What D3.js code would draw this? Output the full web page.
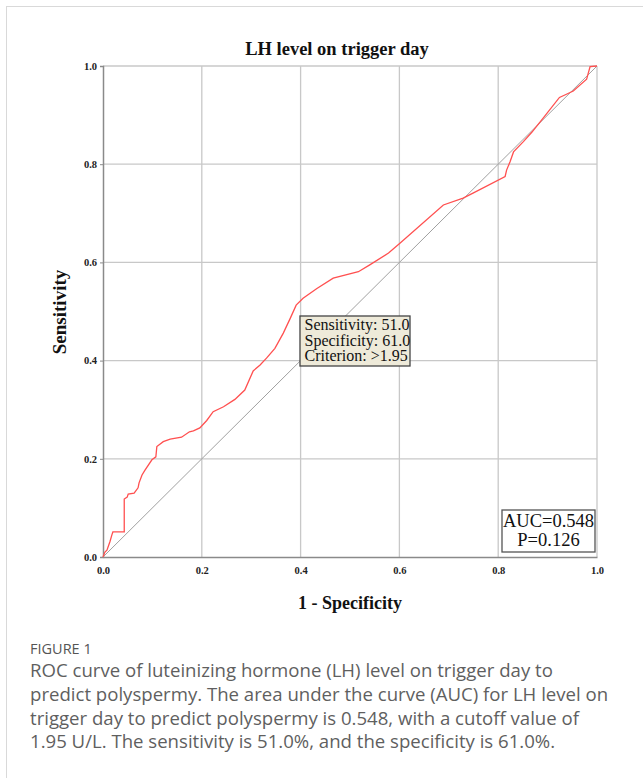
<!DOCTYPE html>
<html>
<head>
<meta charset="utf-8">
<script src="https://cdn.jsdelivr.net/npm/d3@7"></script>
<style>
  html, body { margin: 0; padding: 0; background: #fff; }
  svg { display: block; }
</style>
</head>
<body>
<div id="chart"></div>
<script>
// ---- data ----
const fpr = [0, 0.004, 0.008, 0.014, 0.018, 0.020, 0.043, 0.043, 0.049, 0.051, 0.063, 0.071, 0.073, 0.079, 0.085,
  0.099, 0.107, 0.109, 0.122, 0.136, 0.159, 0.175, 0.183, 0.196, 0.210, 0.223, 0.244, 0.267, 0.287, 0.304, 0.318,
  0.331, 0.348, 0.365, 0.379, 0.391, 0.405, 0.433, 0.466, 0.517, 0.540,
  0.578, 0.601, 0.689, 0.729, 0.749, 0.814, 0.817, 0.824,
  0.831, 0.851, 0.868, 0.891, 0.924, 0.937, 0.952, 0.979, 0.986, 1];
const tpr = [0, 0.010, 0.014, 0.031, 0.045, 0.051, 0.051, 0.118, 0.122, 0.128, 0.130, 0.141, 0.151, 0.167, 0.177,
  0.198, 0.204, 0.225, 0.235, 0.240, 0.244, 0.255, 0.257, 0.263, 0.278, 0.296, 0.306, 0.321, 0.340, 0.379, 0.391,
  0.405, 0.425, 0.456, 0.486, 0.513, 0.527, 0.547, 0.568, 0.581, 0.595,
  0.619, 0.639, 0.717, 0.731, 0.741, 0.775, 0.788, 0.805,
  0.825, 0.846, 0.865, 0.894, 0.936, 0.942, 0.949, 0.973, 0.999, 1];
const refLine = [0, 1];
const ticks = [0, 0.2, 0.4, 0.6, 0.8, 1.0];
const tickLabels = ["0.0", "0.2", "0.4", "0.6", "0.8", "1.0"];
const title = "LH level on trigger day";
const xLabel = "1 - Specificity";
const yLabel = "Sensitivity";
const cutoffLines = ["Sensitivity: 51.0", "Specificity: 61.0", "Criterion: >1.95"];
const aucLines = ["AUC=0.548", "P=0.126"];
const captionHead = "FIGURE 1";
const captionLines = [
  "ROC curve of luteinizing hormone (LH) level on trigger day to",
  "predict polyspermy. The area under the curve (AUC) for LH level on",
  "trigger day to predict polyspermy is 0.548, with a cutoff value of",
  "1.95 U/L. The sensitivity is 51.0%, and the specificity is 61.0%."
];

// ---- layout ----
const W = 643, H = 778;
const svg = d3.select("#chart").append("svg").attr("width", W).attr("height", H);

// outer frame
svg.append("rect").attr("x", 6.5).attr("y", 6.5).attr("width", W + 10).attr("height", H + 10)
  .attr("fill", "none").attr("stroke", "#d9d9d9").attr("stroke-width", 1);

const x = d3.scaleLinear().domain([0, 1]).range([103, 597]);
const y = d3.scaleLinear().domain([0, 1]).range([557, 66]);
const serif = "'Liberation Serif', 'Times New Roman', serif";

// grid
const g = svg.append("g");
g.selectAll(".vg").data(ticks.slice(1)).enter().append("line")
  .attr("x1", d => x(d)).attr("x2", d => x(d)).attr("y1", y(0)).attr("y2", y(1))
  .attr("stroke", "#c8c8c8").attr("stroke-width", 1.3);
g.selectAll(".hg").data(ticks.slice(1)).enter().append("line")
  .attr("x1", x(0)).attr("x2", x(1)).attr("y1", d => y(d)).attr("y2", d => y(d))
  .attr("stroke", "#c8c8c8").attr("stroke-width", 1.3);

// axes
const xAxis = d3.axisBottom(x).tickValues(ticks).tickFormat((d, i) => tickLabels[i]).tickSize(0).tickPadding(10);
const yAxis = d3.axisLeft(y).tickValues(ticks).tickFormat((d, i) => tickLabels[i]).tickSize(3).tickPadding(3);
const gx = svg.append("g").attr("transform", `translate(0,${y(0)})`).call(xAxis);
const gy = svg.append("g").attr("transform", `translate(${x(0)},0)`).call(yAxis);
[gx, gy].forEach(a => {
  a.select(".domain").attr("stroke", "#8a8a8a").attr("stroke-width", 1.5);
  a.selectAll(".tick line").attr("stroke", "#8a8a8a");
  a.selectAll(".tick text").attr("font-family", serif).attr("font-weight", "bold")
    .attr("font-size", 10.5).attr("fill", "#222");
});

// reference diagonal
svg.append("line")
  .attr("x1", x(refLine[0])).attr("y1", y(refLine[0])).attr("x2", x(refLine[1])).attr("y2", y(refLine[1]))
  .attr("stroke", "#a0a0a0").attr("stroke-width", 1);

// ROC curve
const pts = fpr.map((f, i) => [f, tpr[i]]);
svg.append("path").datum(pts)
  .attr("d", d3.line().x(d => x(d[0])).y(d => y(d[1])))
  .attr("fill", "none").attr("stroke", "#ff5050").attr("stroke-width", 1.3);

// title and axis labels
svg.append("text").attr("x", 337).attr("y", 55).attr("text-anchor", "middle")
  .attr("font-family", serif).attr("font-weight", "bold").attr("font-size", 18.5).attr("fill", "#111").text(title);
svg.append("text").attr("x", 350).attr("y", 609).attr("text-anchor", "middle")
  .attr("font-family", serif).attr("font-weight", "bold").attr("font-size", 18).attr("fill", "#111").text(xLabel);
svg.append("text").attr("transform", "translate(66,312) rotate(-90)").attr("text-anchor", "middle")
  .attr("font-family", serif).attr("font-weight", "bold").attr("font-size", 19).attr("fill", "#111").text(yLabel);

// cutoff annotation box
const cb = svg.append("g");
cb.append("rect").attr("x", 300).attr("y", 316).attr("width", 110).attr("height", 50)
  .attr("fill", "#eeead9").attr("stroke", "#444").attr("stroke-width", 1.3);
cb.selectAll("text").data(cutoffLines).enter().append("text")
  .attr("x", 304.5).attr("y", (d, i) => 330 + i * 15.5)
  .attr("font-family", serif).attr("font-size", 16).attr("fill", "#111").text(d => d);

// AUC box
const ab = svg.append("g");
ab.append("rect").attr("x", 502).attr("y", 510).attr("width", 93).attr("height", 42)
  .attr("fill", "#fff").attr("stroke", "#555").attr("stroke-width", 1.3);
ab.selectAll("text").data(aucLines).enter().append("text")
  .attr("x", 548.5).attr("y", (d, i) => 527 + i * 18.5).attr("text-anchor", "middle")
  .attr("font-family", serif).attr("font-size", 18.5).attr("fill", "#111").text(d => d);

// caption
const sans = "'Open Sans', 'Noto Sans', sans-serif";
svg.append("text").attr("x", 30).attr("y", 654).attr("font-family", sans).attr("font-size", 14.5)
  .attr("fill", "#555").text(captionHead);
svg.selectAll(".cap").data(captionLines).enter().append("text")
  .attr("x", 30).attr("y", (d, i) => 677 + i * 23.8)
  .attr("font-family", sans).attr("font-size", 18.6).attr("fill", "#5f5f5f").text(d => d);
</script>
</body>
</html>
